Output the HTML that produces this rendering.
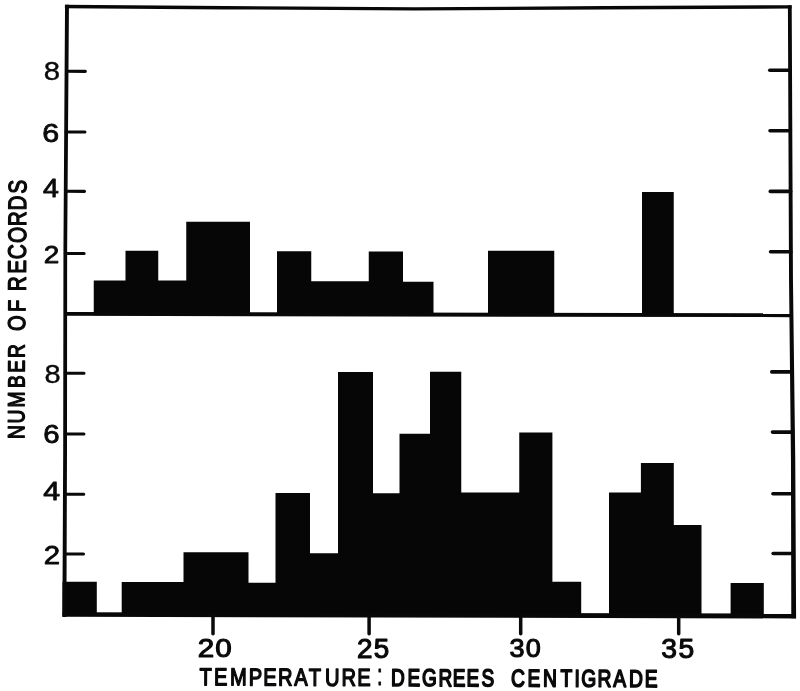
<!DOCTYPE html>
<html lang="en"><head><meta charset="utf-8"><title>Temperature histogram</title>
<style>
html,body{margin:0;padding:0;background:#fff;}
body{width:800px;height:691px;overflow:hidden;}
svg{display:block;}
text{font-family:"Liberation Sans",Arial,sans-serif;fill:#0a0a0a;stroke:#0a0a0a;stroke-linejoin:round;}
.d{font-size:26px;stroke-width:1.1px;}
.c{font-size:24.5px;stroke-width:1.35px;}
.fr polygon{fill:#080808;}
.tk line{stroke:#0a0a0a;stroke-width:3.1;stroke-linecap:round;}
.tk line.xt{stroke-width:3.5;}
.tk line.rt{stroke-width:3.6;}
.bars polygon{fill:#060606;}
</style></head><body>
<svg width="800" height="691" viewBox="0 0 800 691">
<rect width="800" height="691" fill="#ffffff"/>
<g class="bars">
<polygon points="93.75,315.15 93.75,280.50 125.50,280.50 125.50,250.75 158.25,250.75 158.25,280.50 186.25,280.50 186.25,221.75 250.00,221.75 250.00,315.43"/>
<polygon points="277.00,315.48 277.00,251.25 311.25,251.25 311.25,281.25 368.75,281.25 368.75,251.50 403.00,251.50 403.00,281.75 433.50,281.75 433.50,315.76"/>
<polygon points="488.00,315.86 488.00,250.75 554.25,250.75 554.25,315.97"/>
<polygon points="642.00,316.13 642.00,192.00 673.75,192.00 673.75,316.19"/>
<polygon points="62.50,615.70 62.50,581.80 96.80,581.80 96.80,615.77"/>
<polygon points="121.70,615.82 121.70,582.00 183.50,582.00 183.50,552.30 248.50,552.30 248.50,582.80 275.50,582.80 275.50,493.00 310.00,493.00 310.00,553.20 338.00,553.20 338.00,372.00 373.00,372.00 373.00,493.25 399.50,493.25 399.50,433.75 430.00,433.75 430.00,371.75 461.25,371.75 461.25,492.50 519.25,492.50 519.25,432.50 552.40,432.50 552.40,581.70 581.20,581.70 581.20,616.76"/>
<polygon points="609.00,616.82 609.00,492.50 640.90,492.50 640.90,463.00 673.80,463.00 673.80,525.00 701.50,525.00 701.50,617.01"/>
<polygon points="730.60,617.07 730.60,583.00 763.80,583.00 763.80,617.13"/>
</g>
<g class="fr">
<polygon points="65.05,4.80 63.45,250.00 63.20,450.00 62.40,617.00 66.40,617.00 67.00,450.00 67.15,250.00 68.95,4.80"/>
<polygon points="64.90,4.80 225.00,6.00 415.00,7.20 605.00,6.10 791.50,5.20 791.50,8.60 605.00,9.50 415.00,10.60 225.00,9.40 64.90,8.20"/>
<polygon points="65.00,311.95 792.00,313.25 792.00,317.15 65.00,315.85"/>
<polygon points="62.60,612.25 796.00,613.55 796.00,618.45 62.60,616.75"/>
<polygon points="787.90,5.20 789.05,280.00 790.95,460.00 791.30,618.30 796.10,618.30 795.25,460.00 792.95,280.00 791.70,5.20"/>
</g>
<g class="tk">
<line x1="66.54" y1="71.3" x2="85.34" y2="71.35"/>
<line x1="66.12" y1="132" x2="84.92" y2="132.05"/>
<line x1="65.71" y1="191.3" x2="84.51" y2="191.35000000000002"/>
<line x1="65.30" y1="253.5" x2="84.10" y2="253.55"/>
<line x1="65.18" y1="373.25" x2="83.98" y2="373.3"/>
<line x1="65.12" y1="434.0" x2="83.92" y2="434.05"/>
<line x1="64.91" y1="494.2" x2="83.71" y2="494.25"/>
<line x1="64.66" y1="554" x2="83.46" y2="554.05"/>
<line class="rt" x1="790.08" y1="70.2" x2="769.78" y2="70.2"/>
<line class="rt" x1="790.35" y1="130.8" x2="770.05" y2="130.8"/>
<line class="rt" x1="790.61" y1="191.4" x2="770.31" y2="191.4"/>
<line class="rt" x1="790.88" y1="251.7" x2="770.58" y2="251.7"/>
<line class="rt" x1="792.07" y1="371.9" x2="771.77" y2="371.9"/>
<line class="rt" x1="792.77" y1="432.1" x2="772.47" y2="432.1"/>
<line class="rt" x1="793.23" y1="493.8" x2="772.93" y2="493.8"/>
<line class="rt" x1="793.45" y1="553.5" x2="773.15" y2="553.5"/>
<line class="xt" x1="213" y1="614.81" x2="213" y2="633.7"/>
<line class="xt" x1="369.1" y1="615.13" x2="369.1" y2="633.7"/>
<line class="xt" x1="520.7" y1="615.44" x2="520.7" y2="633.7"/>
<line class="xt" x1="678.7" y1="615.76" x2="678.7" y2="633.7"/>
</g>
<g class="lbl">
<text class="d" text-anchor="middle" style="font-size:25.95px;stroke-width:0.4px" transform="translate(52.00,80.45) scale(1.130,1)" x="0" y="0">8</text>
<text class="d" text-anchor="middle" style="font-size:25.58px;stroke-width:0.8px" transform="translate(50.77,141.80) scale(1.191,1)" x="0" y="0">6</text>
<text class="d" text-anchor="middle" style="font-size:24.87px;stroke-width:0.8px" transform="translate(50.92,196.85) scale(1.148,1)" x="0" y="0">4</text>
<text class="d" text-anchor="middle" style="font-size:24.77px;stroke-width:0.8px" transform="translate(51.55,263.45) scale(1.128,1)" x="0" y="0">2</text>
<text class="d" text-anchor="middle" style="font-size:25.81px;stroke-width:0.4px" transform="translate(52.65,383.15) scale(1.125,1)" x="0" y="0">8</text>
<text class="d" text-anchor="middle" style="font-size:25.58px;stroke-width:0.8px" transform="translate(51.48,442.70) scale(1.150,1)" x="0" y="0">6</text>
<text class="d" text-anchor="middle" style="font-size:25.01px;stroke-width:0.8px" transform="translate(51.70,499.65) scale(1.209,1)" x="0" y="0">4</text>
<text class="d" text-anchor="middle" style="font-size:25.54px;stroke-width:0.8px" transform="translate(51.92,564.15) scale(1.152,1)" x="0" y="0">2</text>
<text class="d" text-anchor="middle" style="font-size:26.25px" transform="translate(0,656.95) scale(1.126,1)" x="182.87 198.41" y="0">20</text>
<text class="d" text-anchor="middle" style="font-size:26.86px" transform="translate(0,657.83) scale(1.036,1)" x="352.14 368.19" y="0">25</text>
<text class="d" text-anchor="middle" style="font-size:26.13px" transform="translate(0,657.08) scale(1.034,1)" x="499.99 515.75" y="0">30</text>
<text class="d" text-anchor="middle" style="font-size:26.90px" transform="translate(0,657.83) scale(1.050,1)" x="637.26 653.62" y="0">35</text>
<text class="c" text-anchor="middle" style="font-size:24.5px;stroke-width:1.45px" transform="translate(0,684.5) rotate(0.217) scale(0.82,1)" x="250.67 269.05 290.64 311.59 329.27 347.80 366.98 384.15 405.09 425.30 443.96" y="0">TEMPERATURE</text>
<text class="c" text-anchor="middle" style="stroke-width:0.8px" transform="translate(379.68,685.0) scale(0.82,1.21)" x="0" y="0">:</text>
<text class="c" text-anchor="middle" style="font-size:24.3px;stroke-width:1.7px" transform="translate(0,684.5) rotate(0.217) scale(0.78,1)" x="510.03 530.45 550.48 570.93 588.56 606.15 625.42" y="0">DEGREES</text>
<text class="c" text-anchor="middle" style="font-size:24.3px;stroke-width:1.7px" transform="translate(0,684.5) rotate(0.217) scale(0.79,1)" x="655.70 675.85 696.20 717.03 730.44 745.25 765.00 784.43 805.00 824.37" y="0">CENTIGRADE</text>
<text class="c" text-anchor="middle" style="font-size:23.4px" transform="translate(24.45,391.35) rotate(-89.7) scale(0.82,1)" x="-49.70 -30.73 -9.88 11.95 30.37 49.02" y="0">NUMBER</text>
<text class="c" text-anchor="middle" style="font-size:24.3px" transform="translate(25.2,315.35) rotate(-89.7) scale(0.82,1)" x="-9.76 11.46" y="0">OF</text>
<text class="c" text-anchor="middle" style="font-size:25.3px" transform="translate(25.95,235.50) rotate(-89.7) scale(0.82,1)" x="-58.78 -38.17 -19.94 0.79 20.37 39.76 59.27" y="0">RECORDS</text>
</g>
</svg>
</body></html>
